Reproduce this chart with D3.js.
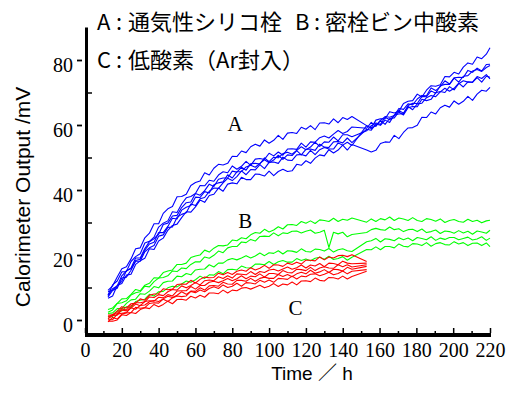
<!DOCTYPE html>
<html>
<head>
<meta charset="utf-8">
<script src="https://cdn.jsdelivr.net/npm/d3@7"></script>
<style>
  body { margin: 0; background: #fff; }
  svg { display: block; }
</style>
</head>
<body>
<svg id="chart"></svg>
<script>
// sampling hours: before the gap and after it
const hoursEarly = [12.5, 15, 17.5, 20, 22.5, 25, 27.5, 30, 32.5, 35, 37.5, 40, 42.5, 45, 47.5, 50, 52.5, 55, 57.5, 60,
  62.5, 65, 67.5, 70, 72.5, 75, 77.5, 80, 82.5, 85, 87.5, 90, 92.5, 95, 97.5, 100, 102.5, 105, 107.5, 110,
  112.5, 115, 117.5, 120, 122.5, 125, 127.5, 130, 132.5, 135, 137.5, 140, 142.5, 145];
const hoursLate = [153, 155.5, 158, 160.5, 163, 165.5, 168, 170.5, 173, 175.5, 178, 180.5, 183, 185.5,
  188, 190.5, 193, 195.5, 198, 200.5, 203, 205.5, 208, 210.5, 213, 215.5, 218, 220];

// A: 通気性シリコ栓 (blue), early part then late part
const seriesA = [
  [9.1, 10.5, 13.2, 15.8, 16.4, 18.8, 21.9, 22.2, 25.3, 26.7, 29.6, 29.6, 32.8, 34.2, 34.9, 37.9, 38.0, 38.7, 41.4, 42.3,
   42.8, 45.3, 44.6, 46.7, 47.9, 47.7, 48.2, 50.4, 50.3, 52.0, 51.5, 53.3, 54.1, 53.5, 55.4, 54.4, 55.3, 56.8, 55.6, 57.5,
   57.7, 57.4, 59.3, 58.7, 59.8, 58.6, 60.6, 60.7, 60.3, 61.9, 60.7, 62.3, 61.7, 62.6,
   59.8, 59.1, 61.5, 61.9, 61.9, 64.1, 63.7, 64.2, 66.6, 67.3, 67.5, 69.5, 68.6, 70.7, 72.1, 71.9, 72.4, 74.9, 74.8, 76.2,
   75.7, 77.8, 79.1, 78.7, 80.9, 80.4, 81.8, 83.8],
  [7.7, 10.8, 12.0, 14.8, 14.9, 18.0, 19.5, 20.4, 23.7, 24.2, 25.5, 28.6, 29.8, 30.5, 33.3, 33.1, 35.7, 37.6, 38.0, 38.9,
   41.4, 41.3, 43.0, 42.7, 44.6, 45.6, 45.3, 47.4, 46.4, 47.3, 48.8, 47.6, 49.5, 49.7, 49.4, 51.3, 50.5, 51.7, 50.7, 52.6,
   52.7, 52.5, 54.4, 53.2, 54.8, 54.7, 56.1, 56.6, 56.0, 57.2, 58.3, 57.4, 58.0, 59.4,
   59.0, 60.8, 59.6, 61.4, 62.6, 62.4, 62.9, 65.1, 64.8, 66.5, 66.2, 68.0, 69.1, 69.0, 71.4, 70.6, 71.8, 73.6, 72.6, 74.5,
   74.7, 74.6, 76.8, 76.2, 77.5, 76.6, 78.6, 78.7],
  [8.7, 9.2, 10.5, 13.6, 15.1, 16.0, 19.1, 19.1, 22.0, 24.1, 25.0, 26.4, 29.4, 29.8, 32.0, 32.2, 34.6, 36.1, 36.3, 38.9,
   38.4, 39.8, 41.8, 41.1, 43.3, 43.7, 43.7, 45.8, 45.5, 47.0, 46.1, 48.1, 48.2, 48.0, 49.9, 48.7, 50.1, 49.9, 51.2, 51.6,
   51.0, 52.2, 53.3, 52.4, 53.2, 54.7, 53.4, 54.8, 54.7, 56.3, 55.1, 57.0, 57.0, 56.4,
   58.2, 59.8, 60.6, 60.2, 62.4, 61.6, 62.8, 64.5, 63.6, 66.0, 66.7, 66.6, 68.8, 68.7, 70.5, 69.8, 72.1, 72.5, 72.5, 74.4,
   73.2, 75.0, 75.2, 76.6, 77.1, 76.5, 77.7, 78.3],
  [7.5, 9.6, 10.5, 11.9, 15.2, 15.8, 18.3, 18.7, 21.5, 23.4, 23.9, 26.9, 26.9, 28.8, 31.3, 31.1, 33.8, 34.7, 35.2, 37.8,
   37.7, 39.5, 39.1, 41.6, 42.2, 42.5, 44.7, 43.7, 45.6, 45.7, 47.1, 47.6, 47.0, 48.2, 49.3, 48.4, 49.2, 50.7, 49.4, 50.8,
   50.6, 52.1, 50.8, 52.5, 52.6, 52.2, 54.1, 53.2, 53.1, 54.8, 54.9, 54.5, 56.0, 54.6,
   58.7, 58.4, 60.3, 59.9, 61.5, 60.8, 63.1, 63.4, 63.5, 65.7, 64.7, 66.5, 66.7, 68.4, 69.1, 68.7, 70.2, 71.3, 70.4, 71.3,
   72.9, 71.7, 73.3, 73.1, 74.6, 73.2, 75.0, 74.7],
  [7.1, 9.1, 9.8, 12.9, 13.2, 15.3, 18.1, 18.1, 21.0, 22.2, 22.9, 25.8, 26.2, 28.5, 28.6, 31.6, 32.5, 33.0, 35.7, 35.2,
   37.3, 37.7, 39.6, 40.6, 40.5, 42.2, 43.6, 42.9, 44.1, 45.9, 44.7, 46.3, 46.2, 47.8, 46.6, 48.5, 48.6, 48.2, 50.1, 49.2,
   49.1, 50.8, 50.9, 50.5, 52.2, 50.9, 52.4, 53.1, 52.6, 52.6, 54.5, 53.8, 54.7, 53.7,
   59.8, 58.9, 59.8, 61.4, 60.2, 62.0, 62.2, 64.0, 63.1, 65.3, 65.7, 65.6, 67.9, 67.5, 67.9, 69.9, 70.3, 70.0, 71.8, 70.8,
   72.7, 73.6, 73.2, 73.2, 74.9, 74.3, 75.5, 74.2],
  [6.7, 7.4, 10.6, 11.2, 13.8, 14.1, 17.1, 18.2, 19.0, 21.9, 21.7, 24.3, 25.2, 27.6, 29.1, 29.5, 31.5, 33.3, 33.2, 34.8,
   36.9, 36.2, 38.3, 38.7, 40.6, 39.6, 41.8, 42.2, 41.9, 43.9, 43.2, 43.2, 44.9, 44.8, 44.3, 45.8, 44.4, 45.7, 46.4, 45.7,
   45.9, 47.9, 47.6, 49.0, 48.2, 49.8, 50.8, 50.5, 52.4, 51.4, 52.3, 53.8, 52.3, 54.0,
   52.3, 51.7, 52.2, 54.3, 54.8, 54.7, 56.8, 55.8, 57.7, 59.1, 59.2, 59.9, 62.4, 62.3, 64.0, 63.4, 65.3, 66.1, 65.5, 67.4,
   66.4, 67.3, 68.8, 67.6, 69.5, 70.7, 70.4, 71.6]
];

// B: 密栓ビン中酸素 (green)
const seriesB = [
  [3.2, 3.7, 5.1, 6.5, 6.6, 7.9, 9.4, 9.0, 10.7, 11.3, 13.0, 12.9, 14.6, 15.1, 15.4, 17.1, 17.1, 17.5, 19.2, 19.7,
   20.0, 21.5, 20.9, 22.1, 22.9, 22.8, 23.1, 24.6, 24.4, 25.3, 25.0, 26.2, 26.9, 26.7, 27.9, 27.1, 27.7, 28.7, 28.0, 29.3,
   29.4, 29.1, 30.3, 29.8, 30.5, 29.7, 30.8, 30.6, 30.3, 31.3, 30.3, 31.0, 30.7, 31.4,
   30.1, 31.1, 30.3, 31.2, 30.8, 31.7, 30.6, 31.4, 31.1, 30.6, 31.5, 30.6, 30.3, 31.2, 30.9, 30.4, 31.1, 30.0, 30.6, 30.9,
   30.3, 30.1, 31.0, 30.3, 30.7, 29.9, 30.5, 30.7],
  [2.4, 3.1, 5.1, 5.3, 5.9, 7.7, 8.4, 8.7, 10.4, 10.2, 11.8, 12.9, 13.1, 13.6, 15.1, 14.9, 16.0, 15.8, 17.1, 17.9,
   17.9, 19.4, 19.0, 19.9, 21.2, 20.7, 22.2, 22.6, 22.6, 24.0, 23.8, 24.8, 24.3, 25.7, 25.8, 25.7, 26.8, 25.9, 26.8, 26.6,
   27.3, 27.4, 26.8, 27.3, 27.7, 26.7, 27.0, 27.6, 22.3, 27.0, 26.5, 27.0, 25.6, 26.3,
   26.9, 27.8, 28.2, 27.8, 27.6, 28.6, 27.8, 28.1, 27.2, 27.8, 27.9, 27.2, 28.0, 26.9, 27.2, 27.7, 26.6, 27.4, 27.2, 26.7,
   27.5, 26.8, 27.3, 26.4, 27.4, 27.1, 26.7, 27.6],
  [2.0, 2.2, 3.5, 3.5, 5.1, 6.2, 6.4, 8.1, 7.9, 8.9, 10.3, 9.9, 11.5, 11.9, 12.0, 13.5, 13.3, 14.3, 13.9, 15.4,
   15.6, 15.7, 17.0, 16.3, 17.5, 17.5, 18.5, 18.9, 18.5, 19.1, 19.8, 19.1, 19.7, 20.6, 19.8, 20.7, 20.5, 21.3, 20.3, 21.3,
   21.2, 20.8, 21.9, 21.1, 20.9, 21.8, 21.7, 21.2, 22.0, 20.9, 21.6, 21.9, 21.3, 21.1,
   24.1, 24.4, 25.1, 24.0, 25.0, 24.8, 24.4, 25.3, 24.7, 25.2, 24.4, 25.4, 25.1, 24.7, 25.6, 24.5, 25.2, 24.8, 25.4, 25.4,
   24.7, 25.1, 25.5, 24.6, 24.9, 25.6, 24.5, 25.2],
  [0.9, 1.1, 2.8, 2.8, 4.1, 3.9, 5.7, 6.1, 6.4, 7.9, 7.4, 8.7, 8.8, 9.9, 10.4, 10.2, 11.1, 12.0, 11.6, 12.4,
   13.5, 12.8, 13.9, 13.8, 14.9, 14.2, 15.5, 15.6, 15.4, 16.6, 16.1, 16.0, 17.2, 17.2, 17.0, 18.0, 17.1, 17.9, 18.3, 17.8,
   17.8, 18.9, 18.3, 18.8, 18.2, 19.0, 19.3, 18.7, 19.6, 18.6, 18.9, 19.5, 18.4, 19.3,
   21.7, 21.6, 22.5, 21.6, 22.6, 22.6, 22.2, 23.4, 22.7, 22.5, 23.5, 23.4, 22.9, 23.8, 22.7, 23.5, 23.8, 23.2, 23.1, 24.1,
   23.4, 23.8, 22.9, 23.6, 23.7, 22.9, 23.7, 22.6]
];

// C: 低酸素(Ar封入) (red) - stops at the first sample after the gap
const seriesC = [
  [1.5, 1.6, 2.7, 4.1, 3.7, 5.0, 5.2, 6.5, 6.1, 7.6, 8.0, 8.1, 9.6, 9.3, 9.5, 10.9, 11.1, 11.0, 12.2, 11.4,
   12.5, 13.2, 13.0, 13.1, 14.4, 13.9, 14.6, 14.0, 15.0, 15.4, 15.0, 16.1, 15.4, 15.9, 16.8, 15.9, 17.0, 16.9, 16.5, 17.5,
   17.1, 17.8, 17.2, 18.4, 18.4, 18.2, 19.4, 18.5, 19.4, 19.1, 19.8, 19.9, 19.5, 20.1, 18.0],
  [0.9, 1.7, 2.0, 3.5, 3.1, 4.4, 5.3, 5.3, 5.6, 7.1, 6.9, 7.8, 7.5, 8.7, 9.4, 9.2, 10.5, 9.9, 10.6, 11.5,
   10.8, 12.1, 12.3, 12.1, 13.3, 12.8, 13.6, 12.9, 14.2, 14.1, 13.9, 14.9, 14.0, 14.9, 14.6, 15.4, 15.6, 15.1, 15.7, 16.3,
   15.6, 16.1, 16.9, 16.0, 16.9, 16.6, 17.4, 16.4, 17.5, 17.4, 17.0, 18.1, 17.5, 17.3, 17.5],
  [0.4, 1.4, 1.5, 3.1, 2.8, 3.7, 4.9, 4.4, 5.7, 5.9, 5.8, 7.0, 6.8, 7.8, 7.4, 8.9, 9.0, 9.0, 10.3, 9.5,
   10.6, 10.6, 11.6, 11.9, 11.5, 12.1, 12.8, 12.1, 12.7, 13.6, 12.7, 13.5, 13.3, 14.2, 13.2, 14.3, 14.3, 14.0, 15.2, 14.6,
   14.5, 15.6, 15.5, 15.2, 16.2, 15.2, 16.0, 16.4, 16.0, 15.9, 17.0, 16.4, 17.0, 16.3, 17.0],
  [0.1, 0.1, 1.8, 2.1, 2.3, 3.8, 3.3, 4.5, 4.6, 5.6, 6.0, 5.7, 6.5, 7.3, 6.9, 7.6, 8.7, 7.9, 8.9, 8.8,
   9.9, 9.2, 10.5, 10.6, 10.4, 11.6, 11.1, 11.0, 12.2, 12.2, 11.9, 12.8, 11.9, 12.8, 13.2, 12.8, 12.8, 14.0, 13.4, 14.0,
   13.3, 14.2, 14.7, 14.2, 15.3, 14.4, 14.8, 15.5, 14.6, 15.6, 15.5, 15.1, 16.2, 15.6, 16.5],
  [-0.6, 0.8, 0.3, 1.8, 2.2, 2.3, 3.9, 3.6, 3.8, 5.1, 5.3, 5.2, 6.4, 5.7, 6.8, 7.4, 7.2, 7.4, 8.8, 8.4,
   9.2, 8.7, 9.7, 10.2, 9.7, 10.8, 10.0, 10.4, 11.3, 10.4, 11.5, 11.4, 11.1, 12.2, 11.6, 12.3, 11.6, 12.8, 12.7, 12.5,
   13.5, 12.6, 13.5, 13.3, 14.1, 14.2, 13.6, 14.1, 14.7, 13.9, 14.3, 15.1, 14.2, 15.0, 15.5],
  [-0.4, -0.4, 0.0, 1.6, 1.4, 2.3, 2.0, 3.2, 3.8, 3.5, 4.8, 4.1, 4.8, 5.8, 5.0, 6.3, 6.4, 6.1, 7.3, 6.8,
   7.6, 7.0, 8.3, 8.3, 8.1, 9.2, 8.3, 9.2, 9.0, 9.8, 10.0, 9.5, 10.1, 10.7, 9.9, 10.4, 11.2, 10.3, 11.1, 10.8,
   11.7, 10.8, 12.0, 12.1, 11.8, 12.9, 12.2, 12.0, 13.1, 13.0, 12.6, 13.5, 12.6, 13.4, 15.0]
];

const xTicks = [0, 20, 40, 60, 80, 100, 120, 140, 160, 180, 200, 220];
const xMinor = [10, 30, 50, 70, 90, 110, 130, 150, 170, 190, 210];
const yTicks = [0, 20, 40, 60, 80];
const yMinor = [10, 30, 50, 70];
const legendParts = ['A', ':', '通気性シリコ栓', 'B', ':', '密栓ビン中酸素', 'C', ':', '低酸素（Ar封入）'];

const width = 523, height = 396;
const svg = d3.select('#chart').attr('width', width).attr('height', height);

const x = d3.scaleLinear().domain([0, 220]).range([85, 490]);
const y = d3.scaleLinear().domain([0, 80]).range([320, 60]);

const hoursAll = hoursEarly.concat(hoursLate);
const hoursC = hoursEarly.concat(hoursLate.slice(0, 1));

const line = hrs => d3.line()
  .defined((d, i) => i < hrs.length)
  .x((d, i) => x(hrs[i]))
  .y(d => y(d));

function drawGroup(data, hrs, color) {
  svg.append('g')
    .selectAll('path')
    .data(data)
    .enter()
    .append('path')
    .attr('d', line(hrs))
    .attr('fill', 'none')
    .attr('stroke', color)
    .attr('stroke-width', 1.1)
    .attr('stroke-linejoin', 'round');
}

drawGroup(seriesA, hoursAll, '#0000ff');
drawGroup(seriesB, hoursAll, '#00ff00');
drawGroup(seriesC, hoursC, '#ff0000');

// axis spines
svg.append('line')
  .attr('x1', 86.5).attr('x2', 86.5)
  .attr('y1', y(90)).attr('y2', 337)
  .attr('stroke', '#000').attr('stroke-width', 3);
svg.append('line')
  .attr('x1', 85).attr('x2', 491)
  .attr('y1', 335).attr('y2', 335)
  .attr('stroke', '#000').attr('stroke-width', 4);

const serif = '"Liberation Serif", "Times New Roman", serif';

// y ticks: major outside (with a gap), minor inside
const yMaj = svg.append('g').attr('transform', 'translate(82,0)')
  .call(d3.axisLeft(y).tickValues(yTicks).tickSize(5).tickPadding(4).tickFormat(d3.format('d')));
yMaj.select('.domain').remove();
yMaj.attr('font-family', serif);
yMaj.selectAll('line').attr('stroke-width', 1.8);
yMaj.selectAll('text')
  .attr('font-family', serif)
  .attr('font-size', 20)
  .attr('fill', '#000')
  .attr('dy', '0.58em');

svg.append('g').attr('transform', 'translate(88,0)')
  .call(d3.axisRight(y).tickValues(yMinor).tickSize(4).tickFormat(''))
  .call(g => g.select('.domain').remove())
  .selectAll('line').attr('stroke-width', 1.5);

// x ticks: pointing up from the axis, labels below
svg.append('g').attr('transform', 'translate(0,333)')
  .call(d3.axisTop(x).tickValues(xTicks).tickSize(5).tickFormat(''))
  .call(g => g.select('.domain').remove())
  .selectAll('line').attr('stroke-width', 1.5);
svg.append('g').attr('transform', 'translate(0,333)')
  .call(d3.axisTop(x).tickValues(xMinor).tickSize(2).tickFormat(''))
  .call(g => g.select('.domain').remove())
  .selectAll('line').attr('stroke-width', 1.5);

const xLab = svg.append('g').attr('transform', 'translate(0,338)')
  .call(d3.axisBottom(x).tickValues(xTicks).tickSize(0).tickPadding(5).tickFormat(d3.format('d')));
xLab.select('.domain').remove();
xLab.attr('font-family', serif);
xLab.selectAll('text')
  .attr('font-family', serif)
  .attr('font-size', 20)
  .attr('fill', '#000');

// axis titles
svg.append('text')
  .attr('transform', 'translate(30,197) rotate(-90)')
  .attr('text-anchor', 'middle')
  .attr('font-family', '"Liberation Sans", Arial, sans-serif')
  .attr('font-size', 21)
  .text('Calorimeter Output /mV');

svg.append('text')
  .attr('x', 312).attr('y', 380)
  .attr('text-anchor', 'middle')
  .attr('font-family', '"Liberation Sans", Arial, "Noto Sans CJK JP", sans-serif')
  .attr('font-size', 19)
  .text('Time ／ h');

// legend text
const legendPos = [[97, 30], [116, 30], [128, 30], [295, 30], [314, 30], [325, 30], [97, 68], [116, 68], [128, 68]];
svg.append('g')
  .selectAll('text')
  .data(legendParts)
  .enter()
  .append('text')
  .attr('x', (d, i) => legendPos[i][0])
  .attr('y', (d, i) => legendPos[i][1])
  .attr('font-family', '"Noto Sans CJK JP", sans-serif')
  .attr('font-size', 22)
  .text(d => d);

// curve group labels
const groupLabels = [['A', 81.5, 60.5], ['B', 87.1, 30.6], ['C', 114.3, 3.8]];
svg.append('g')
  .selectAll('text')
  .data(groupLabels)
  .enter()
  .append('text')
  .attr('x', d => x(d[1]))
  .attr('y', d => y(d[2]))
  .attr('dy', '0.34em')
  .attr('text-anchor', 'middle')
  .attr('font-family', serif)
  .attr('font-size', 21)
  .text(d => d[0]);
</script>
</body>
</html>
